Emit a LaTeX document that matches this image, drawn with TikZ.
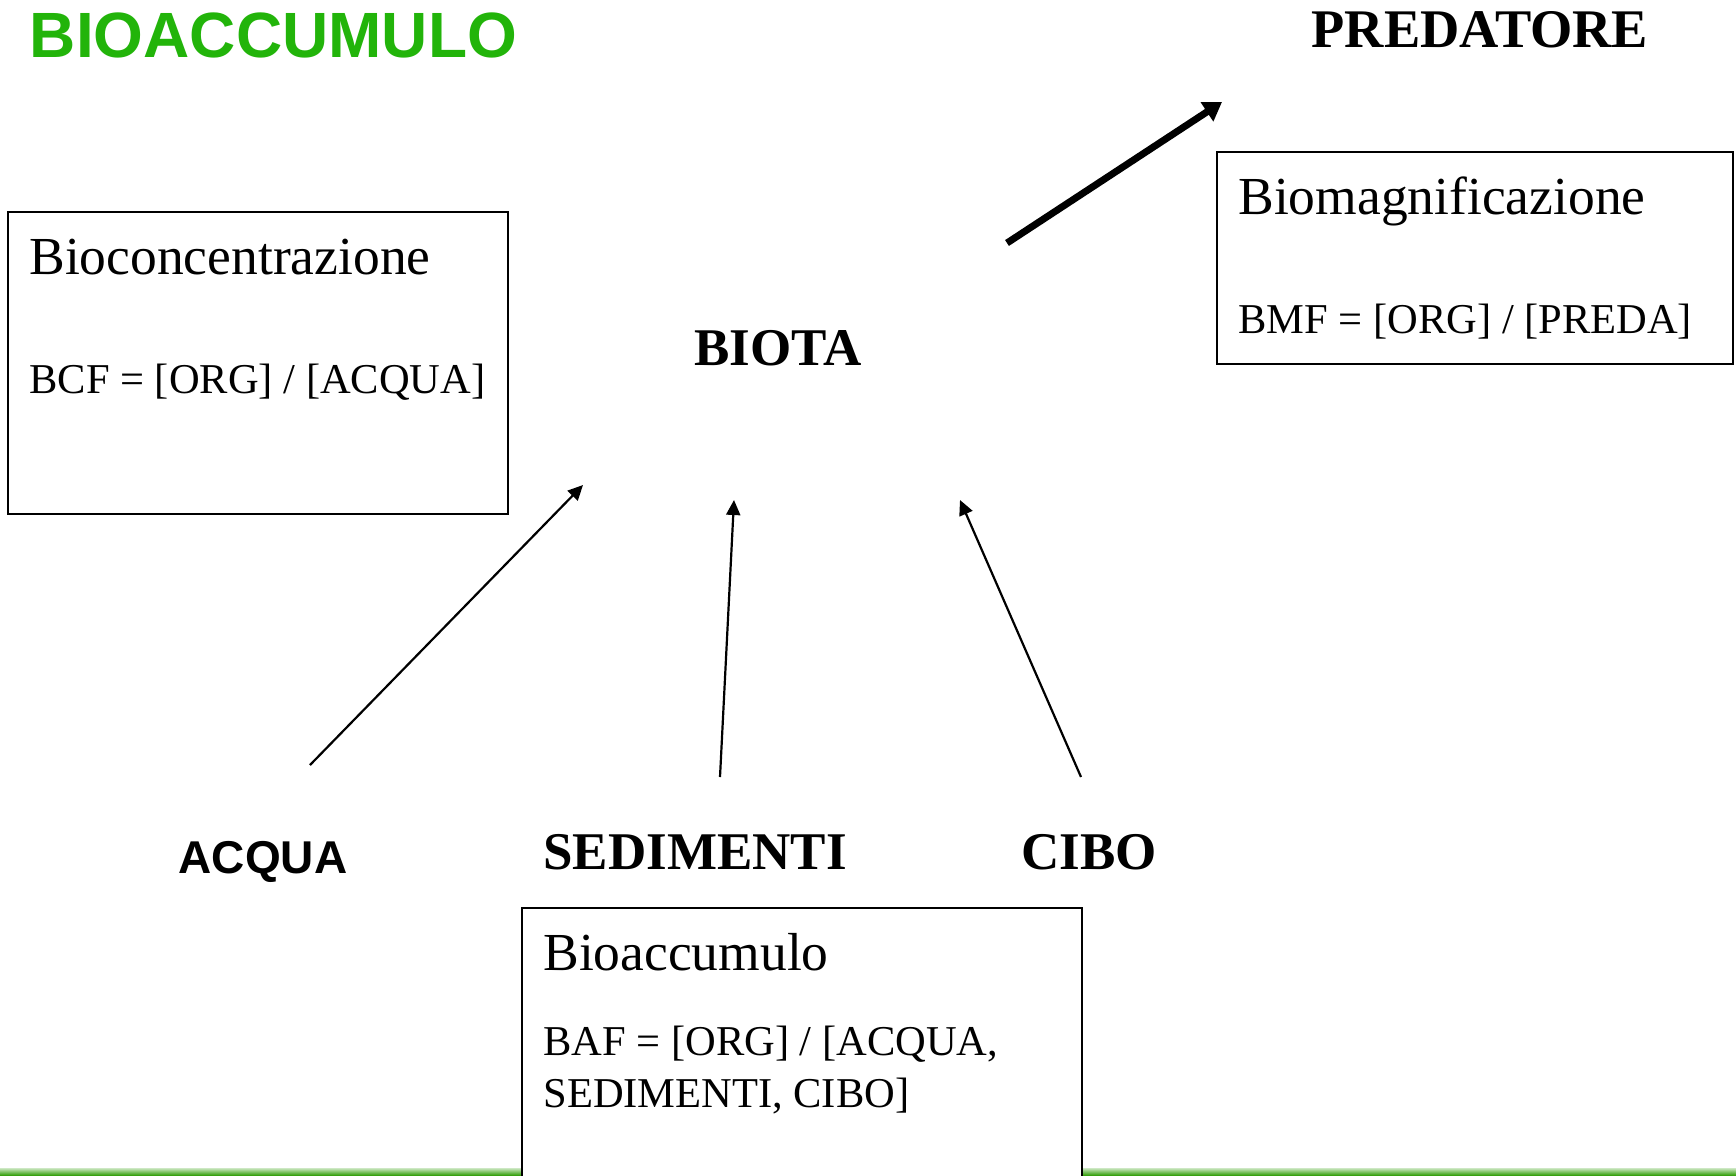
\documentclass[tikz,border=0pt]{standalone}
\usepackage{fontspec}
\setmainfont{Liberation Serif}
\newfontfamily\headsans{Liberation Sans}
\usetikzlibrary{arrows.meta}
\definecolor{titlegreen}{RGB}{34,180,10}
\definecolor{rulegreen}{RGB}{55,160,15}
\definecolor{rulelight}{RGB}{205,232,195}

\begin{document}
\begin{tikzpicture}[x=0.5pt,y=-0.5pt,
  box/.style={draw=black,line width=1pt,fill=white,inner sep=0pt,outer sep=0pt,anchor=north west},
  boxhead/.style={inner sep=0pt,anchor=base west,font=\fontsize{26.75}{32}\selectfont},
  formula/.style={inner sep=0pt,anchor=base west,font=\fontsize{21.25}{26}\selectfont},
  label/.style={inner sep=0pt,anchor=base,font=\fontsize{26.5}{32}\selectfont\bfseries},
  flow/.style={line width=1.1pt,-{Triangle[length=7.5pt,width=7pt]}},
  boldflow/.style={line width=3.5pt,-{Triangle[length=9pt,width=11pt]}}
]
\useasboundingbox (0,0) rectangle (1736,1175);
\fill[white] (0,0) rectangle (1736,1175);

% green rule along the foot of the page
\shade[top color=rulelight,bottom color=rulegreen] (0,1168) rectangle (1736,1175);

% title
\node[inner sep=0pt,anchor=base west,text=titlegreen,
      font=\headsans\fontsize{32}{38}\selectfont\bfseries] (title) at (29.5,57) {BIOACCUMULO};

% Bioconcentrazione box
\node[box,minimum width=250pt,minimum height=151pt] (bcfbox) at (8,212) {};
\node[boxhead] (bcfhead) at (29,274) {Bioconcentrazione};
\node[formula] (bcf) at (29,393) {BCF = [ORG] / [ACQUA]};

% Biomagnificazione box
\node[box,minimum width=258pt,minimum height=106pt] (bmfbox) at (1217,152) {};
\node[boxhead] (bmfhead) at (1238,214) {Biomagnificazione};
\node[formula] (bmf) at (1238,333) {BMF = [ORG] / [PREDA]};

% Bioaccumulo box (runs off the foot of the page)
\node[box,minimum width=280pt,minimum height=141pt] (bafbox) at (522,908) {};
\node[boxhead] (bafhead) at (543,970) {Bioaccumulo};
\node[formula] (baf1) at (543,1055) {BAF = [ORG] / [ACQUA,};
\node[formula] (baf2) at (543,1107) {SEDIMENTI, CIBO]};

% compartment labels
\node[label,font=\fontsize{27.2}{32}\selectfont\bfseries] (predatore) at (1480,47) {PREDATORE};
\node[label] (biota) at (778,365) {BIOTA};
\node[inner sep=0pt,anchor=base,font=\headsans\fontsize{23}{28}\selectfont\bfseries] (acqua) at (263,873) {ACQUA};
\node[label] (sedimenti) at (695,869) {SEDIMENTI};
\node[label] (cibo) at (1089,869) {CIBO};

% arrow end points
\coordinate (acquaTail) at (310,765);
\coordinate (acquaTip) at (583,485);
\coordinate (sedTail) at (720,777);
\coordinate (sedTip) at (734,500);
\coordinate (ciboTail) at (1081,777);
\coordinate (ciboTip) at (960,500);
\coordinate (predTail) at (1007,243);
\coordinate (predTip) at (1222,102);

% uptake routes into the biota
\draw[flow] (acquaTail) -- (acquaTip);
\draw[flow] (sedTail) -- (sedTip);
\draw[flow] (ciboTail) -- (ciboTip);

% transfer up to the predator
\draw[boldflow] (predTail) -- (predTip);
\end{tikzpicture}
\end{document}
